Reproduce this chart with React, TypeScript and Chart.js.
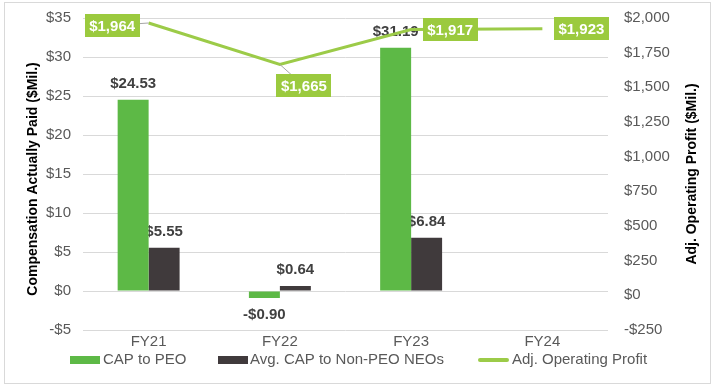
import React, { useEffect, useRef } from 'react';
import { Chart, registerables } from 'chart.js';

Chart.register(...registerables);

const categories = ['FY21', 'FY22', 'FY23', 'FY24'];
const capToPEO: (number | null)[] = [24.53, -0.9, 31.19, null];
const avgCapNonPEO: (number | null)[] = [5.55, 0.64, 6.84, null];
const adjOperatingProfit = [1964, 1665, 1917, 1923];

const seriesNames = ['CAP to PEO', 'Avg. CAP to Non-PEO NEOs', 'Adj. Operating Profit'];
const leftTitle = 'Compensation Actually Paid ($Mil.)';
const rightTitle = 'Adj. Operating Profit ($Mil.)';

const GREEN = '#5DB946';
const DARK = '#403A3C';
const LIME = '#9CCB48';
const LIME_BOX = '#9BCA3E';
const FONT = "'Liberation Sans', Arial, sans-serif";

// label box placement relative to each line point (layout only)
const lineLabelOffsets = [
  { dx: -36.5, dy: 2.5, leader: true },
  { dx: 24, dy: 21.5, leader: true },
  { dx: 39, dy: 0, leader: false },
  { dx: 39, dy: 0, leader: false },
];

const fmtMoney2 = (v: number) => (v < 0 ? '-$' : '$') + Math.abs(v).toFixed(2);
const fmtMoney0 = (v: number) => (v < 0 ? '-$' : '$') + Math.abs(v).toLocaleString('en-US');

const customPlugin = {
  id: 'customDraw',
  beforeDraw(chart: any) {
    const ctx = chart.ctx;
    ctx.save();
    ctx.fillStyle = '#ffffff';
    ctx.fillRect(0, 0, chart.width, chart.height);
    ctx.strokeStyle = '#d9d9d9';
    ctx.lineWidth = 1;
    ctx.strokeRect(4.5, 2.5, 706, 381);
    ctx.restore();
  },
  afterDatasetDraw(chart: any, args: any) {
    const ds = chart.data.datasets[args.index];
    if (ds.type !== 'bar') return;
    const ctx = chart.ctx;
    const meta = chart.getDatasetMeta(args.index);
    ctx.save();
    ctx.font = `bold 15px ${FONT}`;
    ctx.fillStyle = '#404040';
    ctx.textAlign = 'center';
    ctx.textBaseline = 'middle';
    meta.data.forEach((el: any, i: number) => {
      const v = ds.data[i];
      if (v === null || v === undefined) return;
      const y = v >= 0 ? el.y - 16 : el.y + 17;
      ctx.fillText(fmtMoney2(v), el.x, y);
    });
    ctx.restore();
  },
  afterDatasetsDraw(chart: any) {
    const ctx = chart.ctx;
    const idx = chart.data.datasets.findIndex((d: any) => d.type === 'line');
    const meta = chart.getDatasetMeta(idx);
    const ds = chart.data.datasets[idx];
    ctx.save();
    ctx.font = `bold 15px ${FONT}`;
    meta.data.forEach((el: any, i: number) => {
      const v = ds.data[i];
      const off = lineLabelOffsets[i];
      const text = fmtMoney0(v);
      const w = ctx.measureText(text).width + 9;
      const h = 23;
      const cx = el.x + off.dx;
      const cy = el.y + off.dy;
      if (off.leader) {
        ctx.strokeStyle = '#a6a6a6';
        ctx.lineWidth = 1;
        ctx.beginPath();
        ctx.moveTo(el.x, el.y);
        ctx.lineTo(cx, cy);
        ctx.stroke();
      }
      ctx.fillStyle = LIME_BOX;
      ctx.fillRect(Math.round(cx - w / 2), Math.round(cy - h / 2), Math.round(w), h);
      ctx.fillStyle = '#ffffff';
      ctx.textAlign = 'center';
      ctx.textBaseline = 'middle';
      ctx.fillText(text, cx, cy + 1);
    });
    ctx.restore();
  },
  afterDraw(chart: any) {
    const ctx = chart.ctx;
    const area = chart.chartArea;
    const midY = (area.top + area.bottom) / 2;
    ctx.save();
    ctx.font = `bold 14px ${FONT}`;
    ctx.fillStyle = '#000000';
    ctx.textAlign = 'center';
    ctx.textBaseline = 'middle';
    ctx.translate(33, midY + 5);
    ctx.rotate(-Math.PI / 2);
    ctx.fillText(leftTitle, 0, 0);
    ctx.restore();

    ctx.save();
    ctx.font = `bold 14px ${FONT}`;
    ctx.fillStyle = '#000000';
    ctx.textAlign = 'center';
    ctx.textBaseline = 'middle';
    ctx.translate(692, midY);
    ctx.rotate(-Math.PI / 2);
    ctx.fillText(rightTitle, 0, 0);
    ctx.restore();

    // legend
    ctx.save();
    const ly = 360;
    ctx.font = `15px ${FONT}`;
    ctx.textAlign = 'left';
    ctx.textBaseline = 'middle';
    ctx.fillStyle = GREEN;
    ctx.fillRect(70, ly - 4, 30, 8);
    ctx.fillStyle = '#595959';
    ctx.fillText(seriesNames[0], 103, ly);
    ctx.fillStyle = DARK;
    ctx.fillRect(218, ly - 4, 30, 8);
    ctx.fillStyle = '#595959';
    ctx.fillText(seriesNames[1], 250, ly);
    ctx.strokeStyle = LIME;
    ctx.lineWidth = 4;
    ctx.lineCap = 'round';
    ctx.beginPath();
    ctx.moveTo(480, ly);
    ctx.lineTo(507, ly);
    ctx.stroke();
    ctx.fillText(seriesNames[2], 512, ly);
    ctx.restore();
  },
};

export default function App() {
  const ref = useRef<HTMLCanvasElement | null>(null);
  useEffect(() => {
    if (!ref.current) return;
    Chart.defaults.font.family = FONT;
    const chart = new Chart(ref.current, {
      data: {
        labels: categories,
        datasets: [
          {
            type: 'line',
            label: seriesNames[2],
            data: adjOperatingProfit,
            borderColor: LIME,
            backgroundColor: LIME,
            borderWidth: 3,
            pointRadius: 0,
            tension: 0,
            yAxisID: 'y1',
            order: 0,
          } as any,
          {
            type: 'bar',
            label: seriesNames[0],
            data: capToPEO,
            backgroundColor: GREEN,
            yAxisID: 'y',
            categoryPercentage: 0.472,
            barPercentage: 1,
            order: 1,
          } as any,
          {
            type: 'bar',
            label: seriesNames[1],
            data: avgCapNonPEO,
            backgroundColor: DARK,
            yAxisID: 'y',
            categoryPercentage: 0.472,
            barPercentage: 1,
            order: 1,
          } as any,
        ],
      },
      options: {
        responsive: false,
        animation: false,
        layout: { padding: { top: 18, left: 0, right: 0, bottom: 0 } },
        plugins: {
          legend: { display: false },
          tooltip: { enabled: false },
        },
        scales: {
          x: {
            type: 'category',
            offset: true,
            grid: { display: false },
            border: { display: false },
            ticks: { color: '#595959', font: { size: 15 }, padding: -5 },
            afterFit: (s: any) => {
              s.height = 55;
            },
          },
          y: {
            position: 'left',
            min: -5,
            max: 35,
            grid: { color: '#d9d9d9', drawTicks: true, tickLength: 12, tickColor: 'rgba(0,0,0,0)' },
            border: { display: false },
            ticks: {
              stepSize: 5,
              color: '#595959',
              font: { size: 15 },
              padding: 0,
              callback: (v: any) => (v < 0 ? '-$' : '$') + Math.abs(v),
            },
            afterFit: (s: any) => {
              s.width = 83;
            },
          },
          y1: {
            position: 'right',
            min: -250,
            max: 2000,
            grid: {
              display: true,
              drawOnChartArea: false,
              drawTicks: true,
              tickLength: 16,
              color: 'rgba(0,0,0,0)',
              tickColor: 'rgba(0,0,0,0)',
            },
            border: { display: false },
            ticks: {
              stepSize: 250,
              color: '#595959',
              font: { size: 15 },
              padding: 0,
              callback: (v: any) => fmtMoney0(Number(v)),
            },
            afterFit: (s: any) => {
              s.width = 106;
            },
          },
        },
      } as any,
      plugins: [customPlugin],
    });
    return () => chart.destroy();
  }, []);
  return (
    <div style={{ position: 'fixed', left: 0, top: 0, width: 714, height: 385 }}>
      <canvas ref={ref} width={714} height={385} style={{ display: 'block' }} />
    </div>
  );
}
